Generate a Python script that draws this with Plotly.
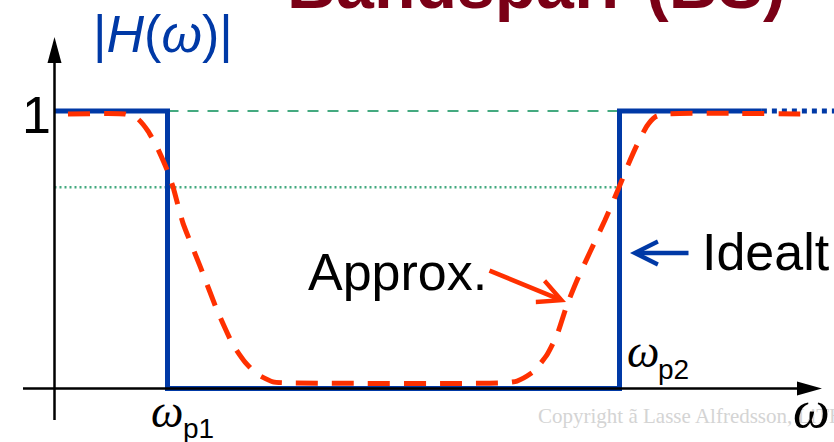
import plotly.graph_objects as go

# ---------------- data (ω in units where ω_p1 = 1, |H| normalised) ----------------
w_p1 = 1.0
w_p2 = 5.0

ideal_w = [0.0, 1.0, 1.0, 5.0, 5.0, 6.26]
ideal_h = [1.0, 1.0, 0.0, 0.0, 1.0, 1.0]
ideal_tail_w = [6.26, 7.0]
ideal_tail_h = [1.0, 1.0]

approx_w = [0.119, 0.624, 0.739, 0.827, 0.907, 0.996, 1.049, 1.137, 1.288, 1.438, 1.58,
            1.686, 1.792, 1.934, 2.111,
            3.942, 4.093, 4.235, 4.358, 4.447, 4.535, 4.633, 4.739, 4.872, 4.96, 5.022,
            5.075, 5.155, 5.243, 5.314, 5.403, 6.704]
approx_h = [0.989, 0.989, 0.971, 0.928, 0.87, 0.788, 0.726, 0.596, 0.441, 0.283, 0.157,
            0.095, 0.052, 0.024, 0.02,
            0.02, 0.027, 0.06, 0.121, 0.193, 0.301, 0.398, 0.492, 0.607, 0.69, 0.751,
            0.805, 0.878, 0.946, 0.978, 0.989, 0.989]

pass_level = 1.0
edge_level = 0.725
pass_w = [1.0, 5.0]
edge_w = [0.0, 5.0]

# ---------------- geometry of the canvas ----------------
W, H = 834, 442
X0, SX = 54.5, 113.0     # pixel of ω=0, pixels per ω unit
Y0, SY = 388.5, 277.5    # pixel of |H|=0, pixels per |H| unit


def dx(px):
    return (px - X0) / SX


def dy(py):
    return (Y0 - py) / SY


BLUE = "#0039A6"
RED = "#FF3000"
GREEN = "#44AA80"
SANS = "Liberation Sans, Arial, sans-serif"
SERIF = "Liberation Serif, Times New Roman, serif"

fig = go.Figure()

fig.add_trace(go.Scatter(x=pass_w, y=[pass_level] * 2, mode="lines",
                         line=dict(color=GREEN, width=2.2, dash="11px,9px"), hoverinfo="skip"))
fig.add_trace(go.Scatter(x=edge_w, y=[edge_level] * 2, mode="lines",
                         line=dict(color=GREEN, width=2.4, dash="2px,3px"), hoverinfo="skip"))
fig.add_trace(go.Scatter(x=ideal_w, y=ideal_h, mode="lines",
                         line=dict(color=BLUE, width=5), hoverinfo="skip"))
fig.add_trace(go.Scatter(x=ideal_tail_w, y=ideal_tail_h, mode="lines",
                         line=dict(color=BLUE, width=5, dash="dot"), hoverinfo="skip"))
fig.add_trace(go.Scatter(x=approx_w, y=approx_h, mode="lines",
                         line=dict(color=RED, width=5, dash="22px,14px", shape="spline", smoothing=0.5),
                         hoverinfo="skip"))

# ---------------- axes with arrowheads ----------------
shapes = [
    dict(type="line", x0=dx(X0), x1=dx(X0), y0=dy(420), y1=dy(60), line=dict(color="black", width=2.5)),
    dict(type="line", x0=dx(23), x1=dx(800), y0=0, y1=0, line=dict(color="black", width=2.5)),
    dict(type="path", fillcolor="black", line=dict(width=0),
         path=f"M{dx(X0)},{dy(37)} L{dx(X0 - 7)},{dy(63)} L{dx(X0 + 7)},{dy(63)} Z"),
    dict(type="path", fillcolor="black", line=dict(width=0),
         path=f"M{dx(822)},0 L{dx(797)},{dy(Y0 - 7)} L{dx(797)},{dy(Y0 + 7)} Z"),
]

ann = []


def txt(text, left, baseline, size, color="black", family=SANS, weight="normal", k=0.346):
    centre = baseline - k * size
    ann.append(dict(text=text, xref="paper", yref="paper", x=left / W, y=1 - centre / H,
                    xanchor="left", yanchor="middle", showarrow=False, borderpad=0,
                    font=dict(size=size, color=color, family=family, weight=weight)))


txt("Bandspärr (BS)", 286, 8, 68, color="#7A0016", weight="bold")
txt("|<i>H</i>(<i>ω</i>)|", 92, 52, 52, color=BLUE)
txt("1", 21, 133, 52)
txt("Approx.", 307, 290, 52)
txt("Idealt", 701, 270, 52)
txt("Copyright ã Lasse Alfredsson, LiTH", 537, 423, 21, color="#D4D4D4", family=SERIF, k=0.3375)
txt("<i>ω</i>", 150, 427, 46, family=SERIF, k=0.3375)
txt("p1", 182, 438, 28)
txt("<i>ω</i>", 626, 367, 46, family=SERIF, k=0.3375)
txt("p2", 657, 379, 28)
txt("<i>ω</i>", 792, 427, 52, family=SERIF, k=0.3375)

# pointer arrows
ann.append(dict(x=dx(630), y=dy(253), ax=dx(690), ay=dy(253), xref="x", yref="y", axref="x", ayref="y",
                text="", showarrow=True, arrowhead=5, arrowsize=1, arrowwidth=4.5, arrowcolor=BLUE, standoff=0))
ann.append(dict(x=dx(566), y=dy(302), ax=dx(488), ay=dy(270), xref="x", yref="y", axref="x", ayref="y",
                text="", showarrow=True, arrowhead=5, arrowsize=1, arrowwidth=4.5, arrowcolor=RED, standoff=0))

fig.update_layout(
    width=W, height=H, margin=dict(l=0, r=0, t=0, b=0),
    paper_bgcolor="white", plot_bgcolor="white", showlegend=False,
    xaxis=dict(range=[dx(0), dx(W)], visible=False, fixedrange=True),
    yaxis=dict(range=[dy(H), dy(0)], visible=False, fixedrange=True),
    shapes=shapes, annotations=ann,
)

fig.write_html("out.html", config=dict(displayModeBar=False),
               post_script="document.body.style.margin='0';document.body.style.overflow='hidden';")
